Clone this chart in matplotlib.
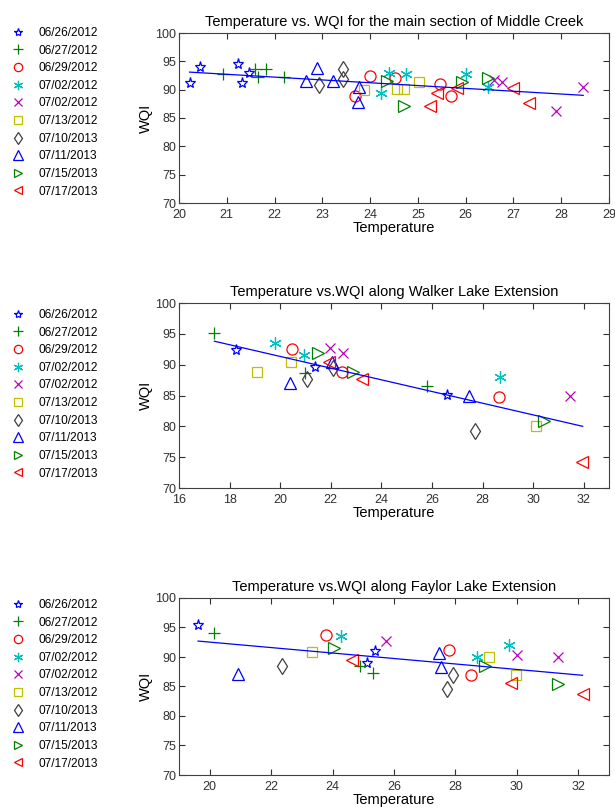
import matplotlib
matplotlib.use("Agg")
from matplotlib import pyplot as plt

plt.rcParams['font.family'] = ['Liberation Sans', 'DejaVu Sans']

dates = ["06/26/2012", "06/27/2012", "06/29/2012", "07/02/2012", "07/02/2012",
         "07/13/2012", "07/10/2013", "07/11/2013", "07/15/2013", "07/17/2013"]

# main section of Middle Creek
temp_main = [
    [20.23, 20.44, 21.24, 21.31, 21.47],
    [20.93, 21.59, 21.66, 21.83, 22.19],
    [23.69, 23.99, 24.53, 25.46, 25.70],
    [24.23, 24.39, 24.76, 26.00, 26.46],
    [26.60, 26.77, 27.89, 28.46],
    [23.88, 24.56, 24.70, 25.02],
    [22.94, 23.43, 23.43],
    [22.66, 22.89, 23.22, 23.76, 23.75],
    [24.35, 24.70, 25.93, 26.46],
    [25.25, 25.39, 25.81, 27.00, 27.33],
]
wqi_main = [
    [91.2, 94.0, 94.6, 91.2, 92.9],
    [92.7, 93.6, 92.3, 93.6, 92.3],
    [88.9, 92.5, 92.1, 91.0, 88.9],
    [89.4, 93.0, 92.8, 92.8, 90.4],
    [91.7, 91.3, 86.2, 90.4],
    [89.9, 90.2, 90.2, 91.4],
    [90.9, 93.6, 91.8],
    [91.5, 93.8, 91.5, 90.5, 87.9],
    [91.5, 87.1, 91.4, 92.1],
    [87.1, 89.4, 90.3, 90.3, 87.7],
]
fit_main_t = [20.22, 28.46]
fit_main_w = [93.1, 89.0]

# Walker Lake Extension
temp_walker = [
    [18.26, 21.38, 26.59],
    [17.40, 20.99, 25.80],
    [20.46, 22.44, 28.64],
    [19.80, 20.95, 28.70],
    [21.98, 22.50, 31.44],
    [19.10, 20.42, 30.10],
    [21.08, 22.08, 27.71],
    [20.39, 22.04, 27.48],
    [21.51, 22.87, 30.42],
    [21.95, 23.23, 31.94],
]
wqi_walker = [
    [92.4, 89.6, 85.1],
    [95.1, 88.6, 86.5],
    [92.6, 88.8, 84.7],
    [93.5, 91.5, 88.0],
    [92.7, 91.9, 85.0],
    [88.8, 90.4, 80.0],
    [87.7, 89.4, 79.2],
    [87.0, 90.4, 84.9],
    [91.9, 88.8, 80.8],
    [90.4, 87.7, 74.2],
]
fit_walker_t = [17.40, 31.96]
fit_walker_w = [93.8, 80.0]

# Faylor Lake Extension
temp_faylor = [
    [19.62, 25.13, 25.38],
    [20.14, 24.89, 25.30],
    [23.77, 27.79, 28.50],
    [24.29, 28.70, 29.75],
    [25.74, 30.00, 31.34],
    [23.32, 29.08, 29.97],
    [22.36, 27.72, 27.91],
    [20.92, 27.48, 27.52],
    [24.04, 28.97, 31.33],
    [24.62, 29.80, 32.14],
]
wqi_faylor = [
    [95.5, 89.0, 91.0],
    [94.1, 88.4, 87.3],
    [93.8, 91.2, 87.0],
    [93.6, 90.0, 92.0],
    [92.7, 90.4, 90.0],
    [90.8, 90.0, 87.0],
    [88.4, 84.6, 87.0],
    [87.2, 90.6, 88.3],
    [91.5, 88.4, 85.5],
    [89.5, 85.6, 83.8],
]
fit_faylor_t = [19.62, 32.14]
fit_faylor_w = [92.7, 86.9]

markers = ['*', '+', 'o', (6, 2, 0), 'x', 's', 'd', '^', '>', '<']
colors = ['#0000ff', '#007f00', '#ff0000', '#00bfbf', '#bf00bf',
          '#bfbf00', '#404040', '#0000ff', '#007f00', '#ff0000']
sizes = [8, 9, 8, 9, 7, 7, 8, 9, 8, 8]

W, H = 615, 810
fig = plt.figure(figsize=(W / 100, H / 100), dpi=100)

panels = [
    (temp_main, wqi_main, fit_main_t, fit_main_w,
     "Temperature vs. WQI for the main section of Middle Creek",
     (20, 29), range(20, 30), 33, 203, 27),
    (temp_walker, wqi_walker, fit_walker_t, fit_walker_w,
     "Temperature vs.WQI along Walker Lake Extension",
     (16, 33), range(16, 33, 2), 303, 488, 309),
    (temp_faylor, wqi_faylor, fit_faylor_t, fit_faylor_w,
     "Temperature vs.WQI along Faylor Lake Extension",
     (19, 33), range(20, 33, 2), 598, 775, 599),
]

for temps, wqis, ft, fw, title, xlim, xticks, top, bot, leg_top in panels:
    ax = fig.add_axes([179 / W, 1 - bot / H, 430 / W, (bot - top) / H])
    handles = []
    for i in range(len(dates)):
        h, = ax.plot(temps[i], wqis[i], linestyle='none', marker=markers[i],
                     markersize=sizes[i], markerfacecolor='none',
                     markeredgecolor=colors[i], markeredgewidth=0.9,
                     label=dates[i])
        handles.append(h)
    ax.plot(ft, fw, color='#0000ff', linewidth=0.9)
    ax.set_xlim(*xlim)
    ax.set_ylim(70, 100)
    ax.set_xticks(list(xticks))
    ax.set_yticks(range(70, 101, 5))
    ax.tick_params(direction='in', top=True, right=True, length=4,
                   labelsize=9, width=0.8, colors='#303030', pad=2)
    ax.tick_params(axis='x', pad=4)
    for s in ax.spines.values():
        s.set_color('#404040')
        s.set_linewidth(0.8)
    ax.set_title(title, fontsize=10.5, pad=5)
    ax.set_xlabel("Temperature", fontsize=10.5, labelpad=0)
    ax.set_ylabel("WQI", fontsize=10.5, labelpad=2)
    ax.legend(handles=handles, loc='upper left',
              bbox_to_anchor=(12 / W, 1 - leg_top / H),
              bbox_transform=fig.transFigure, frameon=False,
              fontsize=8.6, markerscale=0.75, handlelength=1.0,
              handletextpad=1.25, labelspacing=0.47, borderpad=0,
              borderaxespad=0)

fig.savefig("out.png", dpi=100)
